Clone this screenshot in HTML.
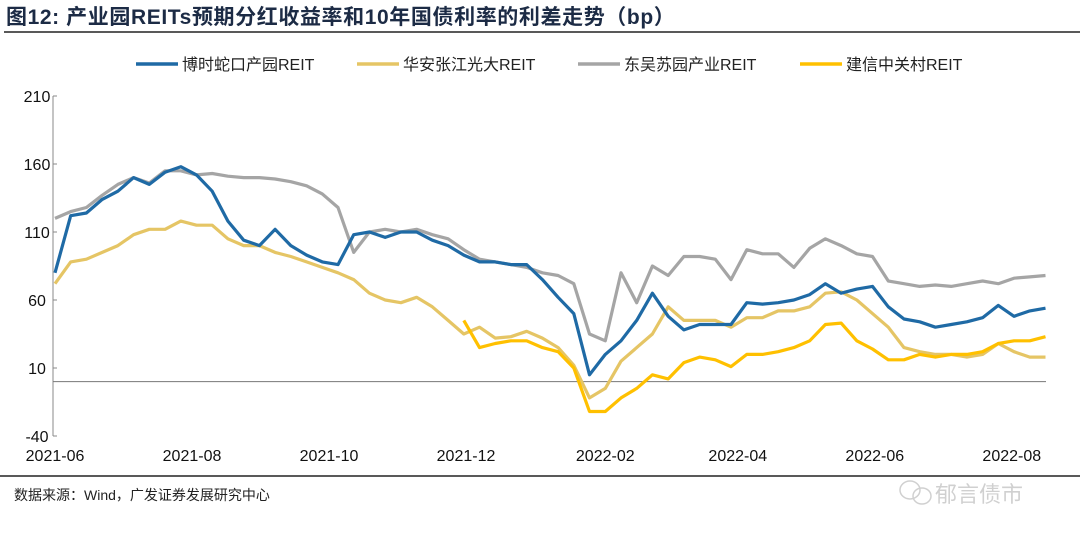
<!DOCTYPE html>
<html><head><meta charset="utf-8"><style>
body{margin:0;width:1080px;height:540px;background:#fff;overflow:hidden;font-family:"Liberation Sans","Noto Sans CJK SC",sans-serif;}
</style></head><body>
<svg width="1080" height="540" xmlns="http://www.w3.org/2000/svg" font-family="Liberation Sans, Noto Sans CJK SC, sans-serif">
<text x="6" y="24" font-size="21" font-weight="bold" fill="#1c2b45" letter-spacing="0.6">图12:  产业园REITs预期分红收益率和10年国债利率的利差走势（bp）</text>
<line x1="4" y1="32" x2="1080" y2="32" stroke="#222" stroke-width="1.5"/>
<g id="legend" font-size="16" fill="#222"></g>
<g id="axes"></g>
<g id="plot"></g>
<line x1="0" y1="476" x2="1080" y2="476" stroke="#222" stroke-width="1.5"/>
<text x="14" y="500" font-size="14" fill="#222">数据来源：Wind，广发证券发展研究中心</text>
<g opacity="0.45">
<ellipse cx="910" cy="490" rx="10" ry="9" fill="none" stroke="#999" stroke-width="1.5"/>
<ellipse cx="922" cy="496" rx="9" ry="8" fill="none" stroke="#999" stroke-width="1.5"/>
<text x="935" y="502" font-size="22" fill="#999">郁言债市</text>
</g>
</svg>
<script>
const tickLabels=["2021-06","2021-08","2021-10","2021-12","2022-02","2022-04","2022-06","2022-08"];
const tickDays=[0,61,122,183,245,304,365,426];
const yTicks=[210,160,110,60,10,-40];
const seriesNames=["博时蛇口产园REIT","华安张江光大REIT","东吴苏园产业REIT","建信中关村REIT"];
const seriesColors=["#1f6aa5","#e5c565","#a5a5a5","#ffc000"];
const weekStep=7;
const bosera=[80,122,124,134,140,150,145,154,158,152,140,118,104,100,112,100,93,88,86,108,110,106,110,110,104,100,93,88,88,86,86,75,62,50,5,20,30,45,65,48,38,42,42,42,58,57,58,60,64,72,65,68,70,55,46,44,40,42,44,47,56,48,52,54];
const huaan=[72,88,90,95,100,108,112,112,118,115,115,105,100,100,95,92,88,84,80,75,65,60,58,62,55,45,35,40,32,33,37,32,25,12,-12,-5,15,25,35,55,45,45,45,40,47,47,52,52,55,65,66,60,50,40,25,22,20,20,18,20,28,22,18,18];
const dongwu=[120,125,128,137,145,150,146,155,155,152,153,151,150,150,149,147,144,138,128,95,110,112,110,112,108,105,97,90,88,86,84,80,78,72,35,30,80,58,85,78,92,92,90,75,97,94,94,84,98,105,100,94,92,74,72,70,71,70,72,74,72,76,77,78];
const jianxin=[null,null,null,null,null,null,null,null,null,null,null,null,null,null,null,null,null,null,null,null,null,null,null,null,null,null,45,25,28,30,30,25,22,10,-22,-22,-12,-5,5,2,14,18,16,11,20,20,22,25,30,42,43,30,24,16,16,20,18,20,20,22,28,30,30,33];
const NS="http://www.w3.org/2000/svg";
const X0=55,PX_PER_DAY=2.246,Y0=368,PX_PER_UNIT=1.36;
function xs(d){return X0+d*PX_PER_DAY;}
function ys(v){return Y0-(v-10)*PX_PER_UNIT;}
function mk(t,a,p){const e=document.createElementNS(NS,t);for(const k in a)e.setAttribute(k,a[k]);p.appendChild(e);return e;}
const axes=document.getElementById('axes'),plot=document.getElementById('plot'),leg=document.getElementById('legend');
let ax=mk('line',{x1:53,y1:ys(210),x2:53,y2:ys(-40),stroke:'#888','stroke-width':1},axes);


yTicks.forEach(v=>{
 let t=mk('line',{x1:53,y1:ys(v),x2:57,y2:ys(v),stroke:'#888'},axes);
 
 
 let l=mk('text',{x:37,y:ys(v)+6,'font-size':16,'text-anchor':'middle',fill:'#111'},axes);l.textContent=v;
 
 
});
let z=mk('line',{x1:53,y1:ys(0),x2:1046,y2:ys(0),stroke:'#777','stroke-width':1},axes);


tickLabels.forEach((s,i)=>{
 let l=mk('text',{x:xs(tickDays[i]),y:461,'font-size':16,'text-anchor':'middle',fill:'#111'},axes);l.textContent=s;
 
 
});
const all=[bosera,huaan,dongwu,jianxin];
const order=[1,2,0,3];
order.forEach(si=>{
 const arr=all[si];let d='';let pen=false;
 arr.forEach((v,i)=>{if(v===null){pen=false;return;}d+=(pen?'L':'M')+xs(i*weekStep).toFixed(1)+' '+ys(v).toFixed(1);pen=true;});
 let p=mk('path',{d:d,fill:'none',stroke:seriesColors[si],'stroke-width':3.2,'stroke-linejoin':'round'},plot);
 
 
});
const legX=[136,357,578,800];
seriesNames.forEach((n,i)=>{
 let g=mk('g',{},leg);
 
 
 mk('line',{x1:legX[i],y1:64,x2:legX[i]+42,y2:64,stroke:seriesColors[i],'stroke-width':3.5},g);
 let t=mk('text',{x:legX[i]+46,y:70,'font-size':16,fill:'#222'},g);t.textContent=n;
});
</script>
</body></html>
